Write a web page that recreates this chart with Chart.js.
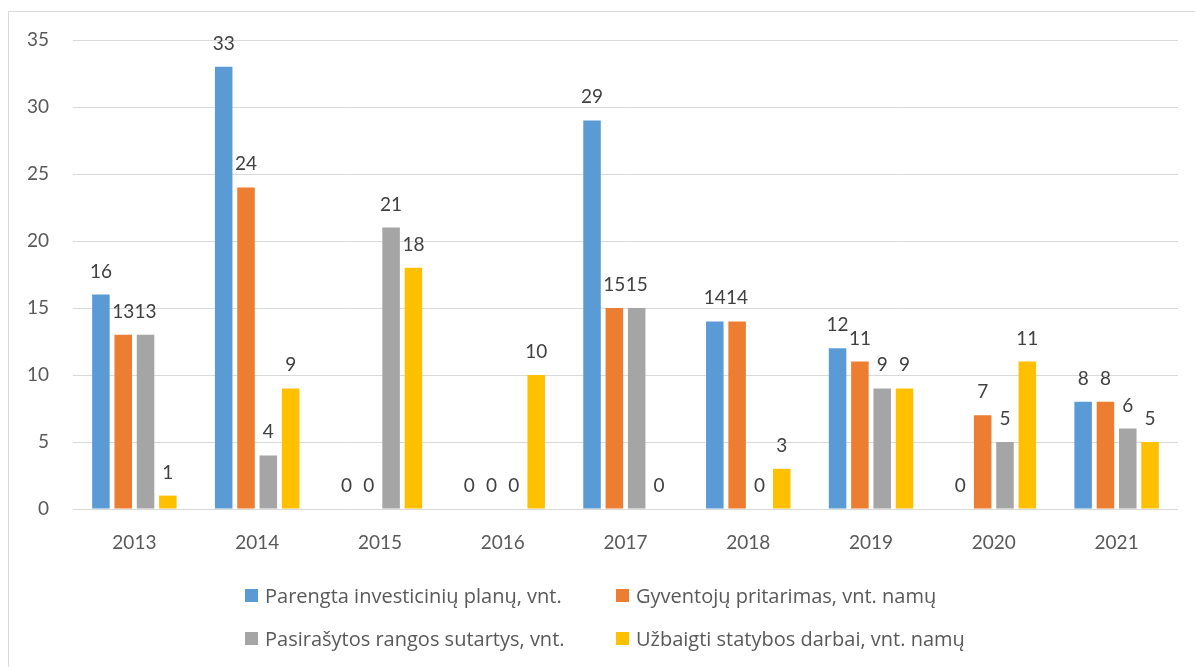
<!DOCTYPE html>
<html>
<head>
<meta charset="utf-8">
<script src="https://cdn.jsdelivr.net/npm/chart.js@4.4.1/dist/chart.umd.min.js"></script>
<style>
  html, body { margin: 0; padding: 0; background: #fff; }
  body { width: 1195px; height: 667px; overflow: hidden; position: relative; font-family: Lato, "Open Sans", sans-serif; }
  #frame { position: absolute; left: 8px; top: 11px; width: 1300px; height: 800px; border-top: 1px solid #d9d9d9; border-left: 1px solid #d9d9d9; }
  #wrap { position: absolute; left: 0; top: 0; width: 1195px; height: 667px; }
  #legend { position: absolute; left: 0; top: 0; width: 1195px; height: 667px; pointer-events: none; }
  .item { position: absolute; display: flex; align-items: center; font-family: "Open Sans", Lato, sans-serif; font-size: 20px; color: #595959; white-space: nowrap; }
  .sw { width: 13px; height: 13px; margin-right: 7px; }
</style>
</head>
<body>
<div id="frame"></div>
<div id="wrap"><canvas id="c" width="1195" height="667"></canvas></div>
<div id="legend"></div>
<script>
const categories = ["2013", "2014", "2015", "2016", "2017", "2018", "2019", "2020", "2021"];
const seriesNames = [
  "Parengta investicinių planų, vnt.",
  "Gyventojų pritarimas, vnt. namų",
  "Pasirašytos rangos sutartys, vnt.",
  "Užbaigti statybos darbai, vnt. namų"
];
const plansValues     = [16, 33, 0, 0, 29, 14, 12, 0, 8];
const approvalValues  = [13, 24, 0, 0, 15, 14, 11, 7, 8];
const contractValues  = [13, 4, 21, 0, 15, 0, 9, 5, 6];
const completedValues = [1, 9, 18, 10, 0, 3, 9, 11, 5];
const seriesColors = ["#5B9BD5", "#ED7D31", "#A5A5A5", "#FFC000"];
const yTicks = [0, 5, 10, 15, 20, 25, 30, 35];

const seriesValues = [plansValues, approvalValues, contractValues, completedValues];

const labelPlugin = {
  id: 'barLabels',
  afterDatasetsDraw(chart) {
    const ctx = chart.ctx;
    ctx.save();
    ctx.font = '19px Lato, "Open Sans", sans-serif';
    ctx.fillStyle = '#404040';
    ctx.textAlign = 'center';
    ctx.textBaseline = 'alphabetic';
    chart.data.datasets.forEach((ds, i) => {
      const meta = chart.getDatasetMeta(i);
      meta.data.forEach((bar, j) => {
        ctx.fillText(String(ds.data[j]), bar.x, bar.y - 17);
      });
    });
    ctx.restore();
  }
};

new Chart(document.getElementById('c'), {
  type: 'bar',
  data: {
    labels: categories,
    datasets: seriesNames.map((n, i) => ({
      label: n,
      data: seriesValues[i],
      backgroundColor: seriesColors[i],
      borderWidth: 0,
      categoryPercentage: 0.727,
      barPercentage: 0.785
    }))
  },
  options: {
    responsive: false,
    animation: false,
    devicePixelRatio: 1,
    layout: { padding: { left: 13, top: 40, right: 17, bottom: 108 } },
    plugins: { legend: { display: false }, tooltip: { enabled: false } },
    scales: {
      x: {
        grid: { display: false, drawTicks: false },
        border: { display: false },
        ticks: { color: '#595959', font: { size: 19, family: 'Lato, "Open Sans", sans-serif' }, padding: 22 },
        afterFit: s => { s.height = 50; }
      },
      y: {
        min: 0, max: 35,
        afterBuildTicks: s => { s.ticks = yTicks.map(v => ({ value: v })); },
        grid: { color: '#d9d9d9', lineWidth: 1, drawTicks: false },
        border: { display: false },
        ticks: { color: '#595959', font: { size: 19, family: 'Lato, "Open Sans", sans-serif' }, padding: 24 },
        afterFit: s => { s.width = 60; }
      }
    }
  },
  plugins: [labelPlugin]
});

const legend = document.getElementById('legend');
const pos = [[245, 595], [616, 595], [245, 638], [616, 638]];
seriesNames.forEach((n, i) => {
  const d = document.createElement('div');
  d.className = 'item';
  d.style.left = pos[i][0] + 'px';
  d.style.top = (pos[i][1] - 12) + 'px';
  d.style.height = '24px';
  const sw = document.createElement('span');
  sw.className = 'sw';
  sw.style.background = seriesColors[i];
  const t = document.createElement('span');
  t.textContent = n;
  d.appendChild(sw); d.appendChild(t);
  legend.appendChild(d);
});
</script>
</body>
</html>
